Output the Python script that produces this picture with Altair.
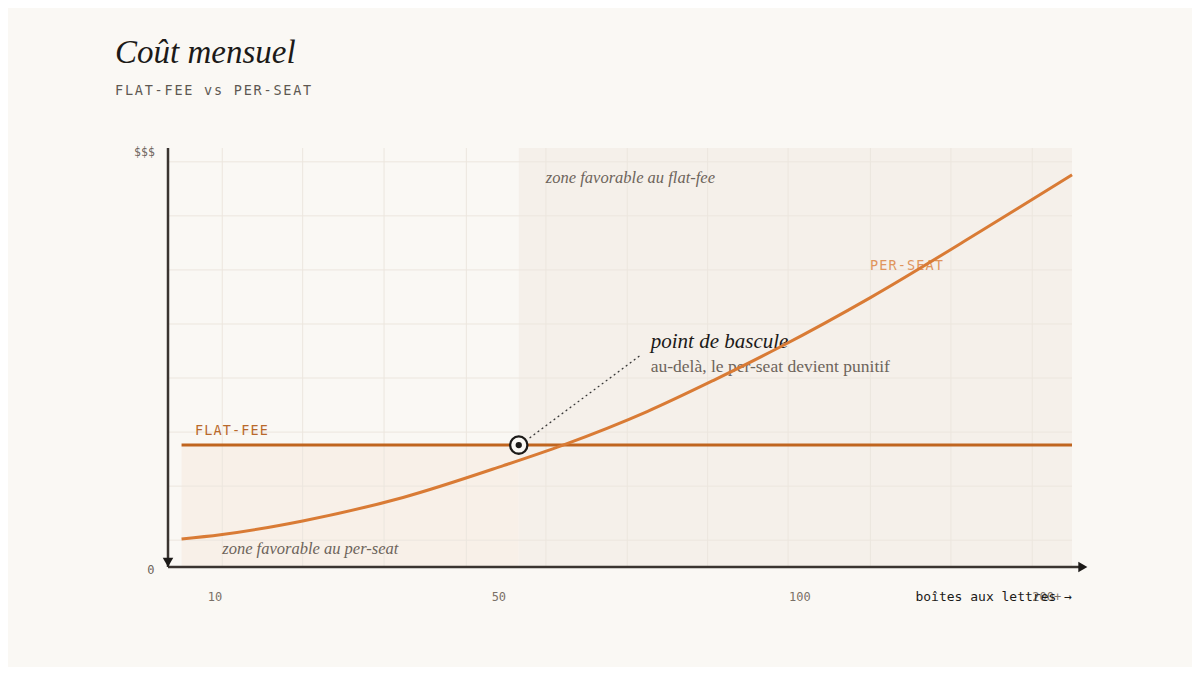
import altair as alt
import pandas as pd

# Positions on the plot: x from 0 (y axis) to 100 (right edge), y from 0 ("0") to 100 ("$$$")
seat_x = [1.5, 5.8, 14.9, 26.0, 37.1, 43.7, 53.0, 60.3, 67.7, 77.7, 89.8, 100]
seat_y = [6.7, 7.7, 11.0, 16.6, 24.2, 29.1, 37.1, 44.5, 52.5, 64.3, 80.0, 93.6]
flat_x = [1.5, 100]
flat_y = [29.1, 29.1]
tip_x = 38.8
tip_y = 29.1
lead_x = [40.0, 52.3]
lead_y = [30.8, 50.6]
tick_labels = ["10", "50", "100", "200+"]
tick_x = [5.2, 36.6, 69.9, 97.2]
grid_x = [6.0, 14.9, 23.9, 33.0, 41.8, 50.8, 59.7, 68.6, 77.7, 86.6, 95.6]
grid_y = [6.4, 19.3, 32.2, 45.1, 58.0, 70.9, 83.8, 96.7]

BG = "#faf8f4"
INK = "#1c1a18"
MUTED = "#6d645b"
SERIF = "Liberation Serif"
MONO = "DejaVu Sans Mono"
W, H = 904, 419

SX = alt.Scale(domain=[0, 100], nice=False, zero=False)
SY = alt.Scale(domain=[0, 100], nice=False, zero=False)


def xq(field):
    return alt.X(field, scale=SX, axis=None)


def yq(field):
    return alt.Y(field, scale=SY, axis=None)


def label(text, x, y, **mark):
    return (
        alt.Chart(pd.DataFrame({"t": [text], "x": [x], "y": [y]}))
        .mark_text(**mark)
        .encode(x=xq("x:Q"), y=yq("y:Q"), text="t:N")
    )


def spaced(text, x0, y, step, **mark):
    """Letter-spaced text, one glyph per row."""
    df = pd.DataFrame({"ch": list(text)})
    df["i"] = range(len(text))
    return (
        alt.Chart(df)
        .transform_calculate(px=f"{x0} + datum.i * {step}", py=f"{y}")
        .mark_text(align="left", baseline="alphabetic", font=MONO, **mark)
        .encode(x=xq("px:Q"), y=yq("py:Q"), text="ch:N")
    )


def segment(x0, x1, y0, y1, **mark):
    df = pd.DataFrame({"x": [x0], "x2": [x1], "y": [y0], "y2": [y1]})
    return alt.Chart(df).mark_rule(**mark).encode(x=xq("x:Q"), x2="x2:Q", y=yq("y:Q"), y2="y2:Q")


def symbol(x, y, **mark):
    df = pd.DataFrame({"x": [x], "y": [y]})
    return alt.Chart(df).mark_point(**mark).encode(x=xq("x:Q"), y=yq("y:Q"))


zones = pd.DataFrame({
    "x0": [flat_x[0], tip_x],
    "x1": [tip_x, 100],
    "y0": [0, 0],
    "y1": [flat_y[0], 100],
    "fill": ["#f8f0e8", "#f5f0ea"],
})
zone_rects = alt.Chart(zones).mark_rect().encode(
    x=xq("x0:Q"), x2="x1:Q", y=yq("y0:Q"), y2="y1:Q",
    color=alt.Color("fill:N", scale=None),
)

gv = pd.DataFrame({"g": grid_x, "lo": 0, "hi": 100})
grid_v = alt.Chart(gv).mark_rule(color="#ece6de", strokeWidth=1).encode(
    x=xq("g:Q"), y=yq("lo:Q"), y2="hi:Q"
)
gh = pd.DataFrame({"g": grid_y, "lo": 0, "hi": 100})
grid_h = alt.Chart(gh).mark_rule(color="#ece6de", strokeWidth=1).encode(
    y=yq("g:Q"), x=xq("lo:Q"), x2="hi:Q"
)

layers = [zone_rects, grid_v, grid_h]

layers += [
    label("zone favorable au flat-fee", 41.8, 92.8, font=SERIF, fontStyle="italic",
          fontSize=16.5, color=MUTED, align="left"),
    label("zone favorable au per-seat", 6.0, 4.3, font=SERIF, fontStyle="italic",
          fontSize=16.5, color=MUTED, align="left"),
    label("point de bascule", 53.4, 53.7, font=SERIF, fontStyle="italic",
          fontSize=21, color=INK, align="left"),
    label("au-delà, le per-seat devient punitif", 53.4, 47.7, font=SERIF,
          fontSize=17.5, color=MUTED, align="left"),
    spaced("FLAT-FEE", 2.99, 31.5, 1.023, fontSize=13.5, color="#b9692b"),
    spaced("PER-SEAT", 77.65, 70.9, 1.023, fontSize=13.5, color="#e0955d"),
]

flat = alt.Chart(pd.DataFrame({"x": flat_x, "y": flat_y})).mark_line(
    color="#c0651f", strokeWidth=3
).encode(x=xq("x:Q"), y=yq("y:Q"))

seat = alt.Chart(pd.DataFrame({"x": seat_x, "y": seat_y})).mark_line(
    color="#d97b35", strokeWidth=3, interpolate="monotone"
).encode(x=xq("x:Q"), y=yq("y:Q"))

layers += [
    flat,
    seat,
    segment(lead_x[0], lead_x[1], lead_y[0], lead_y[1], color="#333333",
            strokeWidth=1.2, strokeDash=[2, 3]),
    symbol(tip_x, tip_y, shape="circle", filled=True, fill=BG, stroke=INK,
           strokeWidth=2.3, size=300, opacity=1),
    symbol(tip_x, tip_y, shape="circle", filled=True, color=INK, size=40, opacity=1),
    # axes with arrowheads
    segment(0, 0, 0, 100, color="#3a3430", strokeWidth=2.5),
    segment(0, 100.9, 0, 0, color="#3a3430", strokeWidth=2.5),
    symbol(101.2, 0, shape="triangle-right", filled=True, color=INK, size=110, opacity=1),
    symbol(0, 1.1, shape="triangle-down", filled=True, color=INK, size=110, opacity=1),
]

ticks = alt.Chart(pd.DataFrame({"t": tick_labels, "x": tick_x, "y": -7.2})).mark_text(
    font=MONO, fontSize=12, color="#7a7067", baseline="middle"
).encode(x=xq("x:Q"), y=yq("y:Q"), text="t:N")

layers += [
    ticks,
    label("$$$", -1.45, 98.8, font=MONO, fontSize=11.5, color=MUTED, align="right", baseline="middle"),
    label("0", -1.9, -0.7, font=MONO, fontSize=12, color=MUTED, align="center", baseline="middle"),
    label("boîtes aux lettres →", 100, -7.2, font=MONO, fontSize=13, color=INK,
          align="right", baseline="middle"),
    label("Coût mensuel", -5.86, 120.3, font=SERIF, fontStyle="italic", fontSize=33,
          color=INK, align="left", baseline="alphabetic"),
    spaced("FLAT-FEE vs PER-SEAT", -5.86, 112.6, 1.095, fontSize=13.5, color="#5e5852"),
]

chart = (
    alt.layer(*layers)
    .properties(
        width=W, height=H,
        autosize=alt.AutoSizeParams(type="none"),
        padding={"left": 160, "top": 140, "right": 120, "bottom": 100},
        background=BG,
    )
    .configure_view(stroke=None)
)

chart.save("out.html", embed_options={"renderer": "svg", "actions": False})
